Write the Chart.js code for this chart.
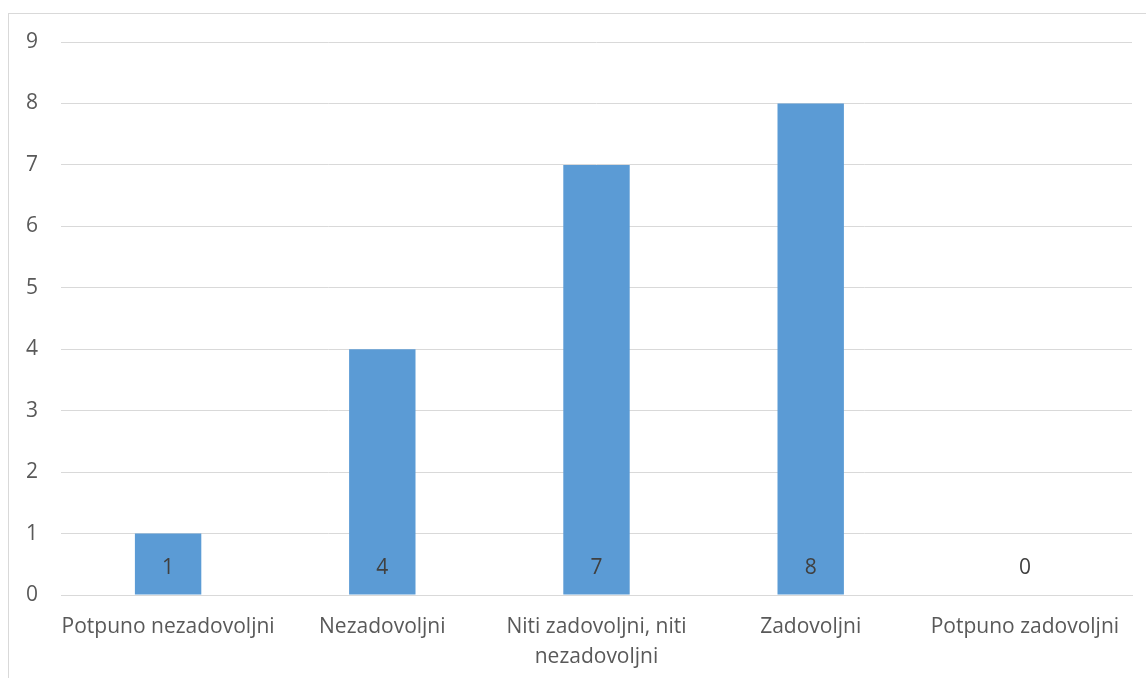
<!DOCTYPE html>
<html>
<head>
<meta charset="utf-8">
<script src="https://cdn.jsdelivr.net/npm/chart.js@4/dist/chart.umd.min.js"></script>
<style>
    html, body { margin: 0; padding: 0; background: #fff; }
    #wrap { position: relative; width: 1146px; height: 678px; overflow: hidden; }
    #frame { position: absolute; left: 8px; top: 13px; width: 1200px; height: 700px;
             border-left: 1px solid #d9d9d9; border-top: 1px solid #d9d9d9; }
    canvas { position: absolute; left: 0; top: 0; }
</style>
</head>
<body>
<div id="wrap">
    <div id="frame"></div>
    <canvas id="chart" width="1146" height="678"></canvas>
</div>
<script>
// Categories and counts
const categories = [
    'Potpuno nezadovoljni',
    'Nezadovoljni',
    ['Niti zadovoljni, niti', 'nezadovoljni'],
    'Zadovoljni',
    'Potpuno zadovoljni'
];
const counts = [1, 4, 7, 8, 0];
const yMax = 9;

const FONT = "'Open Sans', 'Noto Sans', sans-serif";

// Labels drawn inside the bar base
const baseLabels = {
    id: 'baseLabels',
    afterDatasetsDraw(chart) {
        const ctx = chart.ctx;
        const meta = chart.getDatasetMeta(0);
        const y0 = chart.scales.y.getPixelForValue(0);
        ctx.save();
        ctx.font = '21px ' + FONT;
        ctx.fillStyle = '#404040';
        ctx.textAlign = 'center';
        ctx.textBaseline = 'middle';
        meta.data.forEach((bar, i) => {
            ctx.fillText(String(counts[i]), bar.x, y0 - 27);
        });
        ctx.restore();
    }
};

new Chart(document.getElementById('chart'), {
    type: 'bar',
    data: {
        labels: categories,
        datasets: [{
            data: counts,
            backgroundColor: '#5b9bd5',
            categoryPercentage: 1,
            barPercentage: 0.31
        }]
    },
    options: {
        responsive: false,
        animation: false,
        layout: { padding: { top: 42, right: 14, left: 0, bottom: 0 } },
        plugins: { legend: { display: false }, tooltip: { enabled: false } },
        scales: {
            x: {
                grid: { display: false, drawTicks: false },
                border: { color: '#d9d9d9' },
                ticks: { color: '#595959', font: { family: FONT, size: 21, lineHeight: 1.43 }, padding: 17, maxRotation: 0, autoSkip: false },
                afterFit(scale) { scale.height = 83; }
            },
            y: {
                min: 0,
                max: yMax,
                grid: { color: '#d9d9d9', drawTicks: false },
                border: { display: false },
                ticks: { stepSize: 1, color: '#595959', font: { family: FONT, size: 21 }, padding: 23 },
                afterFit(scale) { scale.width = 61; }
            }
        }
    },
    plugins: [baseLabels]
});
</script>
</body>
</html>
